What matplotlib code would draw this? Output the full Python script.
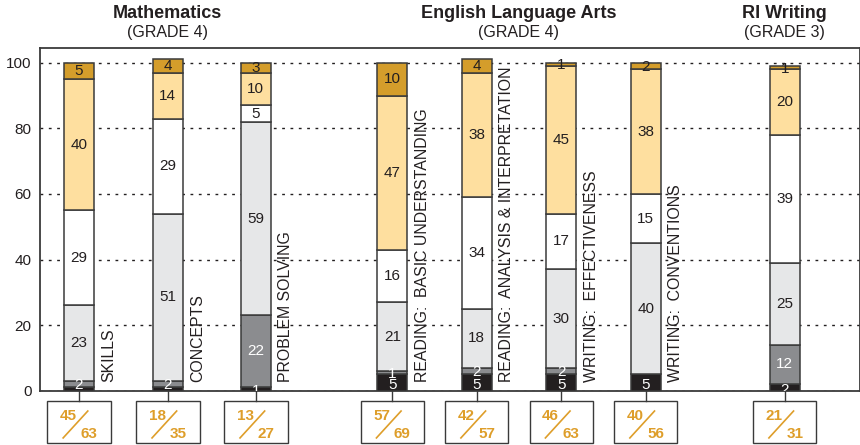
import matplotlib
matplotlib.use("Agg")
import matplotlib.pyplot as plt
from matplotlib import patches
from matplotlib.transforms import blended_transform_factory

plt.rcParams['font.family'] = ['Liberation Sans', 'DejaVu Sans']

# data: percent of students at each level, bottom to top
categories = ["SKILLS", "CONCEPTS", "PROBLEM SOLVING",
              "READING:  BASIC UNDERSTANDING",
              "READING:  ANALYSIS & INTERPRETATION",
              "WRITING:  EFFECTIVENESS", "WRITING:  CONVENTIONS", ""]
level1 = [1, 1, 1, 5, 5, 5, 5, 2]
level2 = [2, 2, 22, 1, 2, 2, 0, 12]
level3 = [23, 51, 59, 21, 18, 30, 40, 25]
level4 = [29, 29, 5, 16, 34, 17, 15, 39]
level5 = [40, 14, 10, 47, 38, 45, 38, 20]
level6 = [5, 4, 3, 10, 4, 1, 2, 1]
numerators = [45, 18, 13, 57, 42, 46, 40, 21]
denominators = [63, 35, 27, 69, 57, 63, 56, 31]
groups = ["Mathematics", "English Language Arts", "RI Writing"]
grades = ["(GRADE 4)", "(GRADE 4)", "(GRADE 3)"]
group_members = [[0, 1, 2], [3, 4, 5, 6], [7]]

positions = [0, 1.01, 2.01, 3.56, 4.52, 5.48, 6.44, 8.02]
colors = ['#231F20', '#8B8C8F', '#E6E7E8', '#FFFFFF', '#FEDF9F', '#D49D2B']
txtcolors = ['white', 'white', '#231F20', '#231F20', '#231F20', '#231F20']
gold = '#DE9E2A'
edge = '#3A3A3A'

fig = plt.figure(figsize=(8.6, 4.45), dpi=100)
ax = fig.add_axes([40/860, 1-390.7/445, 820/860, (390.7-48)/445])

series = [level1, level2, level3, level4, level5, level6]
bottoms = [0]*len(positions)
w = 0.34
for k, vals in enumerate(series):
    for i, v in enumerate(vals):
        if v == 0:
            continue
        ax.bar(positions[i], v, w, bottom=bottoms[i], color=colors[k],
               edgecolor=edge, linewidth=1.1, zorder=3)
        yc = bottoms[i] + v/2
        if k == 0:
            yc -= 0.7
        elif v < 3:
            yc -= 0.3
        # the tiny black segment is not labelled when the grey one above is small too
        show = not (k == 0 and level2[i] < 3 and v < 2)
        if show:
            ax.text(positions[i], yc, str(v), ha='center', va='center',
                    fontsize=11, color=txtcolors[k], zorder=5, clip_on=True)
        bottoms[i] += v

for i, c in enumerate(categories):
    if c:
        ax.text(positions[i] + w/2 + 0.085, 2.6, c, rotation=90, ha='left',
                va='bottom', fontsize=11.4, color='#231F20', zorder=5)

# boxes with fractions under the axis
for i, p in enumerate(positions):
    ax.plot([p, p], [0, -3.1], color=edge, lw=1, clip_on=False)
    ax.add_patch(patches.Rectangle((p-0.36, -15.9), 0.72, 12.8, facecolor='white',
                                   edgecolor=edge, lw=1, clip_on=False))
    ax.text(p-0.12, -7.7, str(numerators[i]), ha='center', va='center',
            fontsize=11, fontweight='bold', color=gold, clip_on=False)
    ax.text(p+0.115, -13.1, str(denominators[i]), ha='center', va='center',
            fontsize=11, fontweight='bold', color=gold, clip_on=False)
    ax.plot([p-0.18, p+0.10], [-14.4, -6.2], color=gold, lw=1.2, clip_on=False)

# group titles
tr = blended_transform_factory(ax.transData, fig.transFigure)
for g, grade, mem in zip(groups, grades, group_members):
    xc = (positions[mem[0]] + positions[mem[-1]]) / 2
    ax.text(xc, 1-13/445, g, transform=tr, ha='center', va='center',
            fontsize=13, fontweight='bold', color='#231F20')
    ax.text(xc, 1-33/445, grade, transform=tr, ha='center', va='center',
            fontsize=11.5, color='#231F20')

ax.set_xlim(-0.443, 8.875)
ax.set_ylim(0, 104.5)
ax.set_yticks([0, 20, 40, 60, 80, 100])
ax.set_xticks([])
ax.tick_params(axis='y', length=0, labelsize=11, labelcolor='#231F20', pad=6)
ax.yaxis.grid(True, linestyle=(0, (2, 4)), color='#231F20', lw=1)
ax.set_axisbelow(True)
for s in ax.spines.values():
    s.set_color(edge)
    s.set_linewidth(1.3)

fig.savefig("out.png", dpi=100)
